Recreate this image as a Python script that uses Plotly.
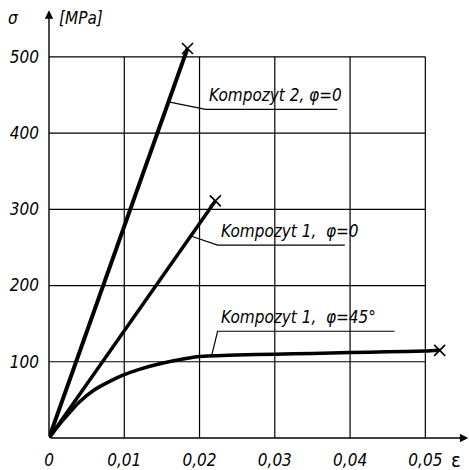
import numpy as np
import plotly.graph_objects as go

# --- data -------------------------------------------------------------
# Kompozyt 2, phi = 0 (linear to fracture)
k2_eps = [0.0, 0.0184]
k2_sig = [0.0, 511.0]

# Kompozyt 1, phi = 0 (linear to fracture)
k1_eps = [0.0, 0.0221]
k1_sig = [0.0, 311.0]

# Kompozyt 1, phi = 45 deg (nonlinear)
k45_eps = [0.0, 0.001, 0.002, 0.004, 0.006, 0.008, 0.010, 0.012, 0.015,
           0.018, 0.020, 0.025, 0.030, 0.035, 0.040, 0.045, 0.050, 0.0519]
k45_sig = [0.0, 13.0, 25.0, 47.0, 63.0, 74.0, 83.0, 90.0, 98.0,
           104.0, 107.0, 109.0, 110.0, 111.0, 112.0, 113.0, 114.0, 115.0]

x_ticks = [0.0, 0.01, 0.02, 0.03, 0.04, 0.05]
x_labels = ["0", "0,01", "0,02", "0,03", "0,04", "0,05"]
y_ticks = [100, 200, 300, 400, 500]
y_labels = ["100", "200", "300", "400", "500"]

label_k2 = "Kompozyt 2, φ=0"
label_k1 = "Kompozyt 1,  φ=0"
label_k45 = "Kompozyt 1,  φ=45°"

FONT = "Liberation Sans Narrow, DejaVu Sans Condensed, Arial Narrow, sans-serif"
X_MAX, Y_MAX = 0.0558, 568

fig = go.Figure()

# grid bounded by the last tick on each axis
for xv in x_ticks[1:]:
    fig.add_shape(type="line", x0=xv, x1=xv, y0=0, y1=y_ticks[-1],
                  line=dict(color="black", width=1.2), layer="below")
for yv in y_ticks:
    fig.add_shape(type="line", x0=0, x1=x_ticks[-1], y0=yv, y1=yv,
                  line=dict(color="black", width=1.2), layer="below")

# curves
for ex, sy, w in [(k2_eps, k2_sig, 4), (k1_eps, k1_sig, 3.5), (k45_eps, k45_sig, 3.5)]:
    fig.add_trace(go.Scatter(x=ex, y=sy, mode="lines",
                             line=dict(color="black", width=w, shape="spline", smoothing=0.6),
                             hoverinfo="skip", showlegend=False, cliponaxis=False))
    # fracture mark
    fig.add_trace(go.Scatter(x=[ex[-1]], y=[sy[-1]], mode="markers",
                             marker=dict(symbol="x-thin-open", size=11, color="black",
                                         line=dict(color="black", width=1.6)),
                             hoverinfo="skip", showlegend=False, cliponaxis=False))


def on_curve_at_sigma(ex, sy, s):
    return float(np.interp(s, sy, ex))


def on_curve_at_eps(ex, sy, e):
    return float(np.interp(e, ex, sy))


def leader(x_anchor, y_anchor, x_knee, y_knee, x_end, text):
    fig.add_trace(go.Scatter(x=[x_anchor, x_knee, x_end], y=[y_anchor, y_knee, y_knee],
                             mode="lines", line=dict(color="black", width=1.2),
                             hoverinfo="skip", showlegend=False, cliponaxis=False))
    fig.add_annotation(x=x_knee + 0.0002, y=y_knee + 3, text=text, showarrow=False,
                       xanchor="left", yanchor="bottom",
                       font=dict(family=FONT, size=17, color="black", style="italic"))


# labels with leader lines
s2 = 441.0
leader(on_curve_at_sigma(k2_eps, k2_sig, s2), s2, 0.0208, 431, 0.0383, label_k2)
s1 = 265.0
leader(on_curve_at_sigma(k1_eps, k1_sig, s1), s1, 0.0224, 253, 0.0393, label_k1)
e45 = 0.0216
leader(e45, on_curve_at_eps(k45_eps, k45_sig, e45), 0.0224, 140, 0.0459, label_k45)

# axes with arrowheads
fig.add_annotation(x=0.0557, y=0, ax=0, ay=0, xref="x", yref="y", axref="x", ayref="y",
                   showarrow=True, arrowhead=2, arrowsize=1.2, arrowwidth=1.4,
                   arrowcolor="black", text="")
fig.add_annotation(x=0, y=561, ax=0, ay=0, xref="x", yref="y", axref="x", ayref="y",
                   showarrow=True, arrowhead=2, arrowsize=1.2, arrowwidth=1.4,
                   arrowcolor="black", text="")

# axis titles
fig.add_annotation(xref="paper", yref="paper", x=-0.084, y=0.970, text="σ",
                   showarrow=False, xanchor="center", yanchor="middle",
                   font=dict(family=FONT, size=17, color="black", style="italic"))
fig.add_annotation(xref="paper", yref="paper", x=0.019, y=0.970, text="[MPa]",
                   showarrow=False, xanchor="left", yanchor="middle",
                   font=dict(family=FONT, size=17, color="black", style="italic"))
fig.add_annotation(xref="paper", yref="paper", x=0.968, y=-0.051, text="ε",
                   showarrow=False, xanchor="center", yanchor="middle",
                   font=dict(family=FONT, size=20, color="black"))

fig.update_layout(
    width=469, height=470,
    margin=dict(l=49, r=0, t=5, b=30),
    paper_bgcolor="white", plot_bgcolor="white",
    showlegend=False,
    xaxis=dict(range=[0, X_MAX], showgrid=False, zeroline=False, showline=False,
               tickvals=x_ticks, ticktext=x_labels, ticks="", ticklabelstandoff=10,
               tickfont=dict(family=FONT, size=17, color="black", style="italic")),
    yaxis=dict(range=[0, Y_MAX], showgrid=False, zeroline=False, showline=False,
               tickvals=y_ticks, ticktext=y_labels, ticks="", ticklabelstandoff=9,
               tickfont=dict(family=FONT, size=17, color="black", style="italic")),
)

fig.write_html("out.html")
